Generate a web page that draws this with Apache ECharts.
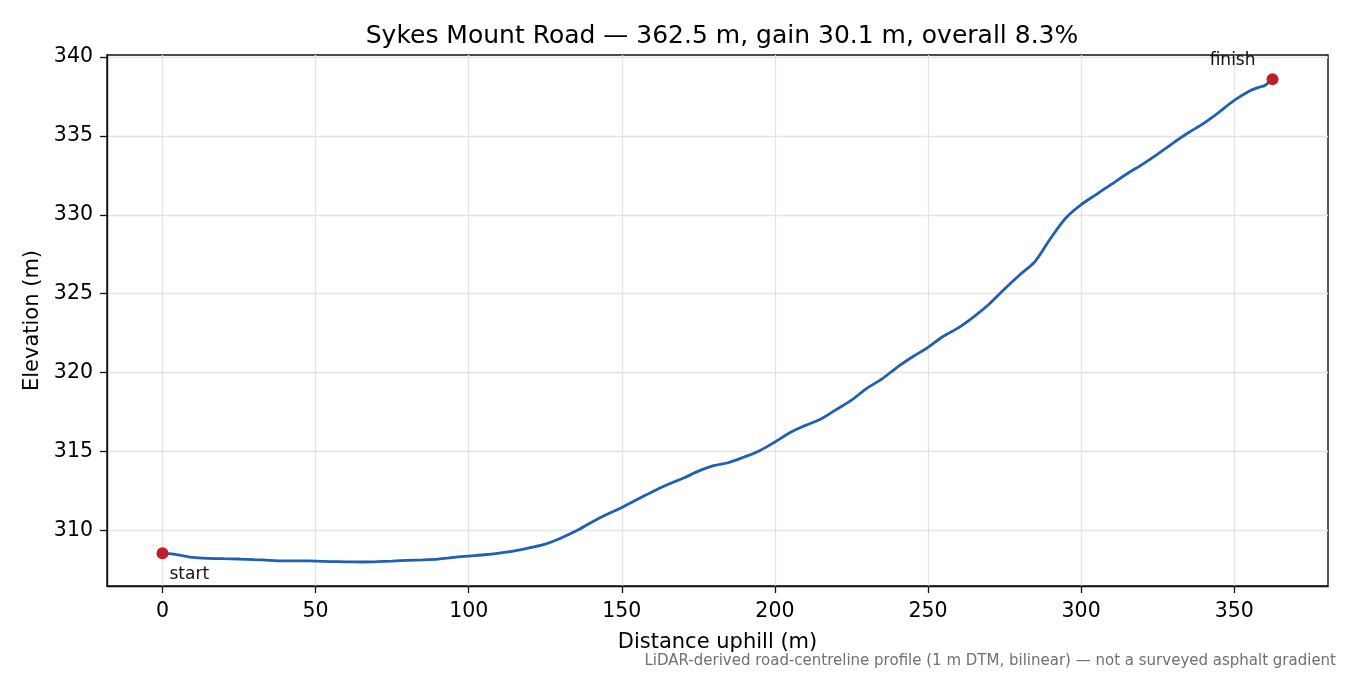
<!DOCTYPE html>
<html>
<head>
<meta charset="utf-8">
<title>Sykes Mount Road profile</title>
<script src="https://cdn.jsdelivr.net/npm/echarts@6/dist/echarts.min.js"></script>
<style>
  html, body { margin: 0; padding: 0; background: #fff; }
  #chart { width: 1350px; height: 675px; }
</style>
</head>
<body>
<div id="chart"></div>
<script>
// distance along the road (m) and elevation (m)
var distances = [0, 5, 10, 15, 20, 25, 30, 35, 40, 45, 50, 55, 60, 65, 70, 75, 80, 85, 90, 95,
  100, 105, 110, 115, 120, 125, 130, 135, 140, 145, 150, 155, 160, 165, 170, 175, 180, 185, 190, 195,
  200, 205, 210, 215, 220, 225, 230, 235, 240, 245, 250, 255, 260, 265, 270, 275, 280, 285, 290, 295,
  300, 305, 310, 315, 320, 325, 330, 335, 340, 345, 350, 355, 358, 360, 362.5];
var elevations = [308.55, 308.45, 308.28, 308.22, 308.2, 308.18, 308.14, 308.1, 308.06, 308.06,
  308.05, 308.02, 308.0, 307.99, 308.01, 308.05, 308.1, 308.13, 308.18, 308.28,
  308.37, 308.45, 308.56, 308.7, 308.9, 309.12, 309.5, 309.95, 310.5, 311.0,
  311.45, 311.95, 312.45, 312.9, 313.3, 313.75, 314.1, 314.3, 314.65, 315.05,
  315.6, 316.2, 316.65, 317.05, 317.65, 318.25, 319.0, 319.6, 320.35, 321.0,
  321.6, 322.3, 322.85, 323.55, 324.35, 325.3, 326.2, 327.05, 328.5, 329.8,
  330.65, 331.3, 331.95, 332.6, 333.2, 333.85, 334.55, 335.2, 335.8, 336.5,
  337.25, 337.85, 338.08, 338.2, 338.6];
var xTicks = [0, 50, 100, 150, 200, 250, 300, 350];
var yTicks = [310, 315, 320, 325, 330, 335, 340];
var endLabels = ['start', 'finish'];

var FONT = 'DejaVu Sans';
var chart = echarts.init(document.getElementById('chart'));

var profile = distances.map(function (d, i) { return [d, elevations[i]]; });
var last = distances.length - 1;
var ends = [
  {
    value: [distances[0], elevations[0]], name: endLabels[0],
    label: { show: true, formatter: '{b}', position: 'right', offset: [-4, 21] }
  },
  {
    value: [distances[last], elevations[last]], name: endLabels[1],
    label: { show: true, formatter: '{b}', position: 'left', offset: [-6, -19] }
  }
];

var option = {
  backgroundColor: '#ffffff',
  animation: false,
  textStyle: { fontFamily: FONT },
  title: {
    text: 'Sykes Mount Road \u2014 362.5 m, gain 30.1 m, overall 8.3%',
    left: 717, top: 19, textAlign: 'center',
    textStyle: { fontFamily: FONT, fontSize: 25, fontWeight: 'normal', color: '#000' }
  },
  grid: {
    left: 107, right: 22, top: 55, bottom: 89,
    show: true, borderColor: '#111', borderWidth: 1.4, backgroundColor: 'transparent'
  },
  xAxis: {
    type: 'value', min: -18.125, max: 380.625,
    name: 'Distance uphill (m)', nameLocation: 'middle', nameGap: 46,
    nameTextStyle: { fontFamily: FONT, fontSize: 21, color: '#000' },
    axisLine: { show: true, onZero: false, lineStyle: { color: '#111', width: 1.4 } },
    axisTick: { show: true, customValues: xTicks, length: 7, lineStyle: { color: '#111', width: 1.3 } },
    axisLabel: { customValues: xTicks, fontFamily: FONT, fontSize: 20.5, color: '#000', margin: 15 },
    splitLine: { show: true, lineStyle: { color: '#e4e4e4', width: 1.3 } }
  },
  yAxis: {
    type: 'value', min: 306.47, max: 340.13,
    name: 'Elevation (m)', nameLocation: 'middle', nameGap: 61, nameRotate: 90,
    nameTextStyle: { fontFamily: FONT, fontSize: 21, color: '#000' },
    axisLine: { show: true, onZero: false, lineStyle: { color: '#111', width: 1.4 } },
    axisTick: { show: true, customValues: yTicks, length: 7, lineStyle: { color: '#111', width: 1.3 } },
    axisLabel: { customValues: yTicks, fontFamily: FONT, fontSize: 20.5, color: '#000', margin: 14 },
    splitLine: { show: true, lineStyle: { color: '#e4e4e4', width: 1.3 } }
  },
  graphic: [{
    type: 'text', right: 14, top: 654,
    style: {
      text: 'LiDAR-derived road-centreline profile (1 m DTM, bilinear) \u2014 not a surveyed asphalt gradient',
      font: '15px "DejaVu Sans"', fill: '#707070', textAlign: 'right'
    }
  }],
  series: [
    {
      type: 'line', data: profile, showSymbol: false, smooth: 0.3,
      lineStyle: { color: '#1f5fb4', width: 2.8 }, z: 3
    },
    {
      type: 'scatter', data: ends, symbolSize: 12,
      itemStyle: { color: '#c21e28', opacity: 1 },
      label: { fontFamily: FONT, fontSize: 17, color: '#111' },
      z: 4
    }
  ]
};

chart.setOption(option);
</script>
</body>
</html>
